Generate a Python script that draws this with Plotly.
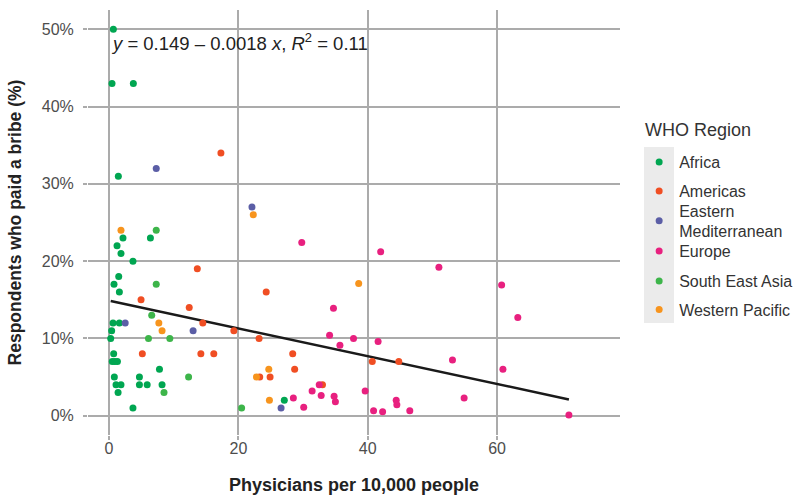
import plotly.graph_objects as go

regions = ["Africa", "Americas", "Eastern<br>Mediterranean", "Europe", "South East Asia", "Western Pacific"]
colors = ["#00A651", "#F04E23", "#5B5EA6", "#E8207F", "#3DB54A", "#F7941D"]

africa_x = [0.67, 0.46, 3.76, 1.44, 2.16, 6.4, 1.24, 1.85, 3.7, 1.5, 0.77, 1.6, 0.62, 1.6, 0.41, 0.26, 0.72,
            0.5, 0.9, 1.3, 7.8, 0.82, 4.7, 1.08, 1.85, 4.7, 5.9, 8.2, 1.4, 3.7, 27.1]
africa_y = [0.50, 0.43, 0.43, 0.31, 0.23, 0.23, 0.22, 0.21, 0.20, 0.18, 0.17, 0.16, 0.12, 0.12, 0.11, 0.10, 0.08,
            0.07, 0.07, 0.07, 0.06, 0.05, 0.05, 0.04, 0.04, 0.04, 0.04, 0.04, 0.03, 0.01, 0.02]

americas_x = [17.3, 13.65, 24.3, 4.95, 12.4, 14.5, 19.3, 23.2, 5.15, 14.2, 16.2, 28.4, 28.7, 23.3, 24.9, 33.0, 40.7, 44.8]
americas_y = [0.34, 0.19, 0.16, 0.15, 0.14, 0.12, 0.11, 0.10, 0.08, 0.08, 0.08, 0.08, 0.06, 0.05, 0.05, 0.04, 0.07, 0.07]

emed_x = [7.3, 22.1, 2.5, 13.0, 26.6]
emed_y = [0.32, 0.27, 0.12, 0.11, 0.01]

europe_x = [29.8, 42.0, 51.0, 60.7, 34.7, 63.2, 34.1, 37.8, 41.6, 35.7, 53.1, 60.9, 32.5, 31.4, 39.6, 32.8, 34.8,
            35.0, 28.5, 44.4, 44.5, 54.9, 30.1, 40.9, 42.3, 46.5, 71.1]
europe_y = [0.224, 0.212, 0.192, 0.169, 0.139, 0.127, 0.104, 0.100, 0.096, 0.091, 0.072, 0.060, 0.040, 0.032, 0.032,
            0.026, 0.025, 0.018, 0.023, 0.020, 0.014, 0.023, 0.011, 0.0065, 0.005, 0.0065, 0.001]

sea_x = [7.3, 7.3, 6.6, 6.1, 9.4, 12.3, 8.5, 20.5]
sea_y = [0.24, 0.17, 0.13, 0.10, 0.10, 0.05, 0.03, 0.01]

wp_x = [22.3, 1.85, 7.7, 8.2, 38.6, 24.7, 22.8, 24.8]
wp_y = [0.26, 0.24, 0.12, 0.11, 0.171, 0.06, 0.05, 0.02]

fit_intercept = 0.149
fit_slope = -0.0018

series = [(africa_x, africa_y), (americas_x, americas_y), (emed_x, emed_y),
          (europe_x, europe_y), (sea_x, sea_y), (wp_x, wp_y)]

# vertical centres (paper coords) of the individual legend entries
legend_y = [0.6424, 0.5741, 0.5035, 0.4329, 0.3624, 0.2953]

fig = go.Figure()

all_x = [v for xs, _ in series for v in xs]
xmin, xmax = min(all_x), max(all_x)
fig.add_trace(go.Scatter(x=[xmin, xmax], y=[fit_intercept + fit_slope * xmin, fit_intercept + fit_slope * xmax],
                         mode="lines", line=dict(color="#1A1A1A", width=2.5), showlegend=False, hoverinfo="skip"))

font_family = "Liberation Sans, Arial, sans-serif"
grid = "#ABABAB"

legend_layouts = {}
for i, (name, col, (xs, ys)) in enumerate(zip(regions, colors, series)):
    lg = "legend" if i == 0 else f"legend{i + 1}"
    fig.add_trace(go.Scatter(x=xs, y=ys, mode="markers", name=name, legend=lg,
                             marker=dict(color=col, size=7, line=dict(width=0))))
    legend_layouts[lg] = dict(x=1.036, y=legend_y[i], xanchor="left", yanchor="middle",
                              bgcolor="rgba(0,0,0,0)", font=dict(size=16, color="#333333"))

fig.update_layout(
    width=794, height=495,
    margin=dict(l=88, r=174, t=10, b=60, autoexpand=False),
    plot_bgcolor="white", paper_bgcolor="white",
    font=dict(family=font_family, size=16, color="#333333"),
    xaxis=dict(range=[-3.25, 79], tickvals=[0, 20, 40, 60], showgrid=True, gridcolor=grid, gridwidth=1.5,
               zeroline=False, showline=False, ticks="outside", ticklen=4, tickcolor=grid, tickwidth=1.5,
               automargin=False, ticklabelstandoff=-5,
               tickfont=dict(size=16, color="#4D4D4D"),
               title=dict(text="<b>Physicians per 10,000 people</b>", font=dict(size=18, color="#222222"), standoff=22)),
    yaxis=dict(range=[-0.025, 0.525], tickvals=[0, 0.1, 0.2, 0.3, 0.4, 0.5], tickformat=".0%",
               showgrid=True, gridcolor=grid, gridwidth=1.5, zeroline=False, showline=False,
               ticks="outside", ticklen=4, tickcolor=grid, tickwidth=1.5, ticklabelstandoff=6,
               automargin=False,
               tickfont=dict(size=16, color="#4D4D4D"),
               title=dict(text="<b>Respondents who paid a bribe (%)</b>", font=dict(size=17.5, color="#222222"), standoff=15)),
    shapes=[dict(type="rect", xref="paper", yref="paper", x0=1.0451, x1=1.1015, y0=0.2635, y1=0.6776,
                 fillcolor="#EBEBEB", line=dict(width=0), layer="below")],
    annotations=[dict(x=0, y=0.483, xref="x", yref="y", xanchor="left", yanchor="middle", showarrow=False,
                      text="<i>y</i> = 0.149 – 0.0018 <i>x</i>, <i>R</i><sup>2</sup> = 0.11",
                      font=dict(size=18.5, color="#222222")),
                 dict(x=1.0433, y=0.7176, xref="paper", yref="paper", xanchor="left", yanchor="middle",
                      showarrow=False, text="WHO Region", font=dict(size=18, color="#333333"))],
)
fig.update_layout(**legend_layouts)

fig.write_html("out.html", post_script="document.body.style.margin='0';",
               config={"displayModeBar": False})
